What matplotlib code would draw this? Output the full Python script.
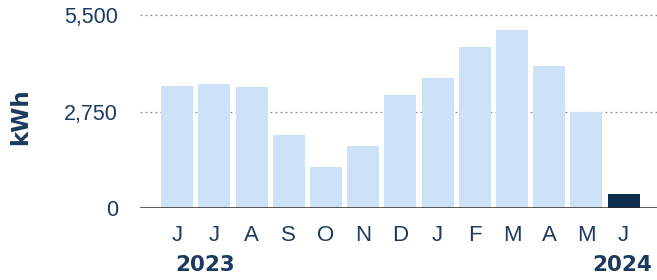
import matplotlib
matplotlib.use("Agg")
import matplotlib.pyplot as plt

# monthly energy use, Jun 2023 - Jun 2024
months = ["J", "J", "A", "S", "O", "N", "D", "J", "F", "M", "A", "M", "J"]
kwh = [3485, 3540, 3450, 2090, 1185, 1785, 3230, 3705, 4605, 5080, 4065, 2735, 410]
yticks = [0, 2750, 5500]
ytick_labels = ["0", "2,750", "5,500"]

light = "#cde2f6"
dark = "#0c2d4e"
navy = "#1b3a5e"

plt.rcParams["font.family"] = ["Liberation Sans", "DejaVu Sans"]

fig = plt.figure(figsize=(6.57, 2.8), dpi=100)
ax = fig.add_axes([0.2131, 0.256, 0.7869, 0.702])

colors = [light] * (len(kwh) - 1) + [dark]
x = list(range(len(months)))
ax.bar(x, kwh, width=0.86, color=colors, zorder=2)

ax.set_xlim(-1, 12.9)
ax.set_ylim(0, 5600)

for y in yticks[1:]:
    ax.axhline(y, color="#8a8a8a", lw=0.9, ls=(0, (1.5, 2.5)), zorder=1)
ax.axhline(0, color="#2b2b2b", lw=1.8, zorder=3)

ax.set_yticks(yticks)
ax.set_yticklabels(ytick_labels)
ax.set_xticks(x)
ax.set_xticklabels(months)
ax.tick_params(axis="y", length=0, pad=16, labelsize=15.5, labelcolor=navy)
ax.tick_params(axis="x", length=0, pad=12, labelsize=16, labelcolor=navy)

for s in ax.spines.values():
    s.set_visible(False)

bold = dict(family="DejaVu Sans", fontweight="bold", color=navy)
fig.text(0.032, 0.582, "kWh", rotation=90, ha="center", va="center",
         fontsize=16.5, **bold)
fig.text(0.266, 0.055, "2023", ha="left", va="center", fontsize=15.5, **bold)
fig.text(0.993, 0.055, "2024", ha="right", va="center", fontsize=15.5, **bold)

fig.savefig("out.png", dpi=100)
